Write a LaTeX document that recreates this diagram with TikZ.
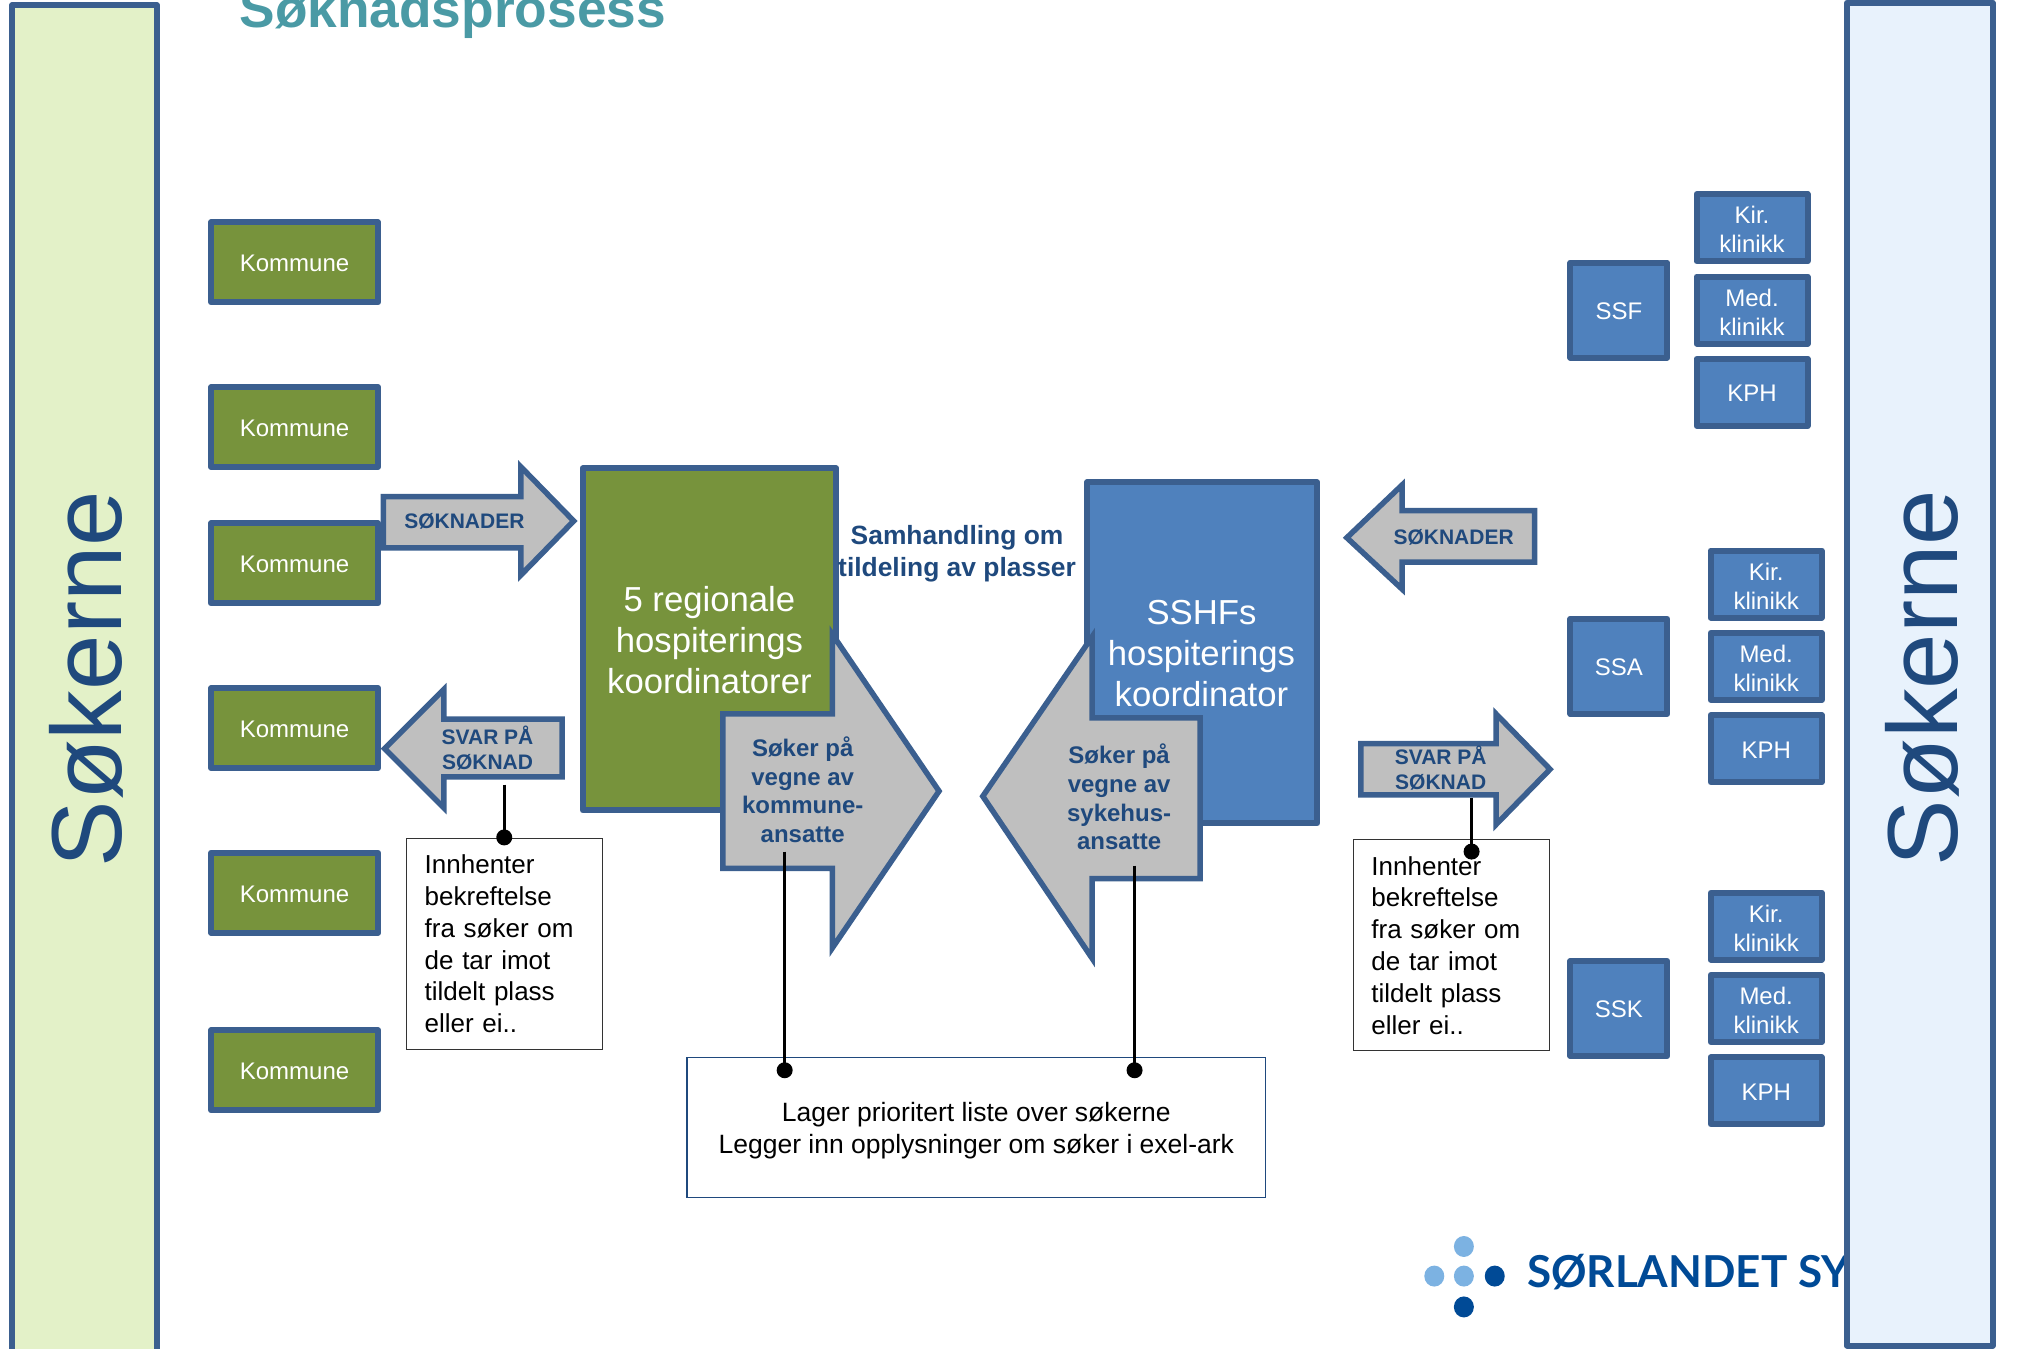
\documentclass[tikz,border=0pt]{standalone}
\usepackage{fontspec}
\setmainfont{Liberation Sans}
\newfontfamily\logofont{Lato}
\definecolor{edgeblue}{HTML}{3B5F8F}
\definecolor{fillgreen}{HTML}{77933C}
\definecolor{fillblue}{HTML}{4F81BD}
\definecolor{fillgrey}{HTML}{BFBFBF}
\definecolor{barleft}{HTML}{E3F1C8}
\definecolor{barright}{HTML}{E8F2FC}
\definecolor{titleteal}{HTML}{4A9AA5}
\definecolor{darktext}{HTML}{1F497D}
\definecolor{logodark}{HTML}{004A96}
\definecolor{logolight}{HTML}{7CB2E2}
\newcommand{\lowerstrut}{\rule{0pt}{19pt}}
\tikzset{
  x=1.2864pt,y=-1.2864pt,
  shapeedge/.style={draw=edgeblue,line width=6pt,line join=round},
  sidebar/.style={shapeedge},
  kommunebox/.style={shapeedge,fill=fillgreen,text=white,minimum width=167pt,minimum height=80pt,inner sep=0pt,font=\fontsize{24}{29}\selectfont},
  unitbox/.style={shapeedge,fill=fillblue,text=white,minimum width=97pt,minimum height=95pt,inner sep=0pt,font=\fontsize{24}{29}\selectfont},
  clinicbox/.style={shapeedge,fill=fillblue,text=white,align=center,minimum width=111pt,minimum height=67pt,inner sep=0pt,font=\fontsize{24}{29}\selectfont},
  mainlabel/.style={text=white,align=center,inner sep=0pt,font=\fontsize{34.7}{41}\selectfont},
  arrowshape/.style={draw=edgeblue,fill=fillgrey,line width=5.5pt,line join=miter,miter limit=6},
  arrowlabel/.style={text=darktext,align=center,inner sep=0pt,font=\bfseries\fontsize{21}{25.5}\selectfont},
  biglabel/.style={text=darktext,align=center,inner sep=0pt,font=\bfseries\fontsize{24}{28.7}\selectfont},
  notebox/.style={draw=black!80,line width=1pt,fill=white,minimum width=195.5pt,minimum height=211pt,inner sep=0pt},
  notetext/.style={align=left,text=black,text width=159.5pt,inner sep=0pt,font=\fontsize{26}{31.8}\selectfont},
  linkline/.style={draw=black,line width=2.6pt},
  linkdot/.style={circle,fill=black,inner sep=0pt,minimum size=16pt},
  sidelabel/.style={rotate=90,anchor=base,text=darktext,inner sep=0pt,font=\fontsize{99.6}{105}\selectfont},
}
\begin{document}
\begin{tikzpicture}
\useasboundingbox (0,0) rectangle (1568,1048);
% title
\node[anchor=base west,inner sep=0pt,text=titleteal,font=\bfseries\fontsize{53.3}{60}\selectfont] (title) at (186,21) {Søknadsprosess};
% logo
\foreach \n/\lx/\ly/\lc in {a/1138/969/logolight,b/1115/992/logolight,c/1138/992/logolight,d/1162/992/logodark,e/1138/1016/logodark}{
  \fill[\lc] (\lx,\ly) ellipse (10pt and 10.5pt);
}
\node[anchor=base west,inner sep=0pt,text=logodark,font=\logofont\bfseries\fontsize{44}{50}\selectfont] (logo) at (1187,1001) {SØRLANDET SY};
% side bars
\draw[sidebar,fill=barleft] (9.5,4) -- (122,4) -- (122,1060) -- (9.5,1060) -- cycle;
\draw[sidebar,fill=barright] (1436,2) -- (1549,2) -- (1549,1046) -- (1436,1046) -- cycle;
\node[sidelabel] (sokerneL) at (94.5,528) {Søkerne};
\node[sidelabel] (sokerneR) at (1521.5,527) {Søkerne};
% kommune
\node[kommunebox] (k1) at (229,204) {\lowerstrut Kommune};
\node[kommunebox] (k2) at (229,332) {\lowerstrut Kommune};
\node[kommunebox] (k3) at (229,438) {\lowerstrut Kommune};
\node[kommunebox] (k4) at (229,566) {\lowerstrut Kommune};
\node[kommunebox] (k5) at (229,694) {\lowerstrut Kommune};
\node[kommunebox] (k6) at (229,832) {\lowerstrut Kommune};
% main boxes
\draw[shapeedge,fill=fillgreen] (453,364) rectangle (650,630);
\node[mainlabel] (green) at (551.5,497.5) {5 regionale\\hospiterings\\koordinatorer};
\draw[shapeedge,fill=fillblue] (845,375) rectangle (1024,640);
\node[mainlabel] (blue) at (934,508) {SSHFs\\hospiterings\\koordinator};
% units
\node[unitbox] (ssf) at (1258.5,241) {\lowerstrut SSF};
\node[unitbox] (ssa) at (1258.5,518) {\lowerstrut SSA};
\node[unitbox] (ssk) at (1258.5,784) {\lowerstrut SSK};
\node[clinicbox] (c1) at (1362,177) {\rule{0pt}{21pt}Kir.\\klinikk};
\node[clinicbox] (c2) at (1362,241) {\rule{0pt}{21pt}Med.\\klinikk};
\node[clinicbox] (c3) at (1362,305) {\lowerstrut KPH};
\node[clinicbox] (c4) at (1373,454) {\rule{0pt}{21pt}Kir.\\klinikk};
\node[clinicbox] (c5) at (1373,518) {\rule{0pt}{21pt}Med.\\klinikk};
\node[clinicbox] (c6) at (1373,582) {\lowerstrut KPH};
\node[clinicbox] (c7) at (1373,720) {\rule{0pt}{21pt}Kir.\\klinikk};
\node[clinicbox] (c8) at (1373,784) {\rule{0pt}{21pt}Med.\\klinikk};
\node[clinicbox] (c9) at (1373,848) {\lowerstrut KPH};
% arrows
\draw[arrowshape] (298,386) -- (405,386) -- (405,363) -- (446,405) -- (405,447) -- (405,426) -- (298,426) -- cycle;
\node[arrowlabel] (a1) at (361,405) {SØKNADER};
\draw[arrowshape] (1193,397) -- (1090,397) -- (1090,377) -- (1047,418) -- (1090,458) -- (1090,437) -- (1193,437) -- cycle;
\node[arrowlabel] (a2) at (1130,418) {SØKNADER};
\draw[arrowshape] (437,559) -- (345,559) -- (345,536) -- (299,582) -- (345,628) -- (345,604) -- (437,604) -- cycle;
\node[arrowlabel] (a3) at (379,581.5) {SVAR PÅ\\SØKNAD};
\draw[arrowshape] (1058,578) -- (1163,578) -- (1163,555) -- (1205,598) -- (1163,641) -- (1163,618) -- (1058,618) -- cycle;
\node[arrowlabel] (a4) at (1120,597) {SVAR PÅ\\SØKNAD};
\draw[arrowshape] (562,555) -- (647,555) -- (647,493) -- (730,615) -- (647,737) -- (647,675) -- (562,675) -- cycle;
\node[biglabel] (a5) at (624,614) {Søker på\\vegne av\\kommune-\\ansatte};
\draw[arrowshape] (933,558) -- (849,558) -- (849,495) -- (764,619) -- (849,745) -- (849,683) -- (933,683) -- cycle;
\node[biglabel] (a6) at (870,619.5) {Søker på\\vegne av\\sykehus-\\ansatte};
% centre text
\node[text=darktext,align=center,inner sep=0pt,font=\bfseries\fontsize{26.4}{32}\selectfont] (samhandling) at (744,430.5) {Samhandling om\\tildeling av plasser};
% note boxes
\node[notebox] (n1) at (392,734) {};
\node[notetext,anchor=west] (n1t) at (330,733.8) {Innhenter\\bekreftelse\\fra søker om\\de tar imot\\tildelt plass\\eller ei..};
\node[notebox] (n2) at (1128.5,735) {};
\node[notetext,anchor=west] (n2t) at (1066,734.8) {Innhenter\\bekreftelse\\fra søker om\\de tar imot\\tildelt plass\\eller ei..};
\node[draw=darktext,line width=1.3pt,fill=white,minimum width=579pt,minimum height=140pt,inner sep=0pt] (n3) at (759,876.5) {};
\node[align=center,text=black,inner sep=0pt,font=\fontsize{26.5}{32}\selectfont] (n3t) at (759,879) {Lager prioritert liste over søkerne\\Legger inn opplysninger om søker i exel-ark};
% connectors
\coordinate (s1) at (392,610);
\coordinate (s2) at (1144,620);
\coordinate (s3) at (610,662);
\coordinate (s4) at (882,673);
\node[linkdot] (d1) at (392,651) {};
\node[linkdot] (d2) at (1144,662) {};
\node[linkdot] (d3) at (610,832) {};
\node[linkdot] (d4) at (882,832) {};
\draw[linkline] (s1) -- (d1.center);
\draw[linkline] (s2) -- (d2.center);
\draw[linkline] (s3) -- (d3.center);
\draw[linkline] (s4) -- (d4.center);
\end{tikzpicture}
\end{document}
